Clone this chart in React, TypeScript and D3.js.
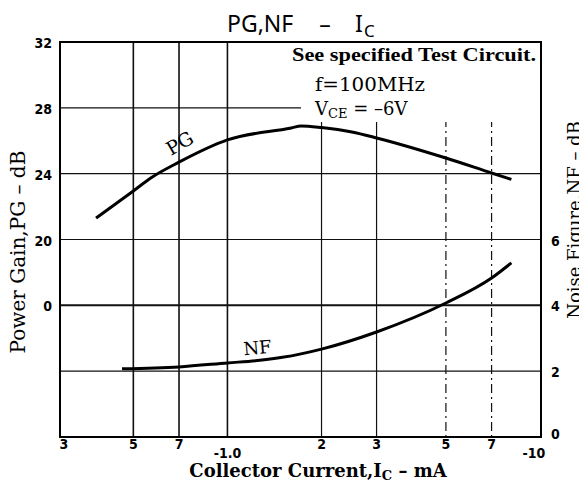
import React from 'react';
import * as d3 from 'd3';

// collector current in mA (absolute value), log axis
const xTickValues = [0.3, 0.5, 0.7, 1, 2, 3, 5, 7, 10];
const xTickLabels = ['3', '5', '7', '-1.0', '2', '3', '5', '7', '-10'];
const xGridValues = [0.5, 0.7, 1, 2, 3, 5, 7];
const xDashed = [5, 7];

// left axis: power gain (dB)
const pgTickValues = [32, 28, 24, 20, 16];
const pgTickLabels = ['32', '28', '24', '20', '0'];
const pgGridValues = [28, 24, 20, 16, 12];

// right axis: noise figure (dB)
const nfTickValues = [6, 4, 2, 0];

// curves
const pgCurrent = [0.38, 0.5, 0.57, 0.7, 1.0, 1.6, 1.72, 2.0, 2.5, 3.0, 5.0, 7.0, 8.1];
const pgValues = [21.3, 22.95, 23.75, 24.7, 26.05, 26.78, 26.9, 26.8, 26.53, 26.17, 24.95, 24.04, 23.65];
const nfCurrent = [0.46, 0.7, 1.0, 1.27, 1.5, 2.0, 3.0, 5.0, 7.0, 8.1];
const nfValues = [2.07, 2.13, 2.25, 2.33, 2.42, 2.67, 3.19, 4.07, 4.83, 5.29];

export default function App() {
  const width = 579;
  const height = 484;
  const left = 60, right = 541, top = 42, bottom = 437;

  const x = d3.scaleLog().domain([0.3, 10]).range([64, 540]);
  const yPG = d3.scaleLinear().domain([8, 32]).range([bottom, top]);
  const yNF = d3.scaleLinear().domain([0, 12]).range([bottom, top]);

  const pgLine = d3.line<number>()
    .x((d, i) => x(pgCurrent[i]))
    .y(d => yPG(d))
    .curve(d3.curveMonotoneX);
  const nfLine = d3.line<number>()
    .x((d, i) => x(nfCurrent[i]))
    .y(d => yNF(d))
    .curve(d3.curveMonotoneX);

  const serif = "'DejaVu Serif', serif";
  const tickFont = "'DejaVu Sans Condensed', 'DejaVu Sans', sans-serif";

  return (
    <svg
      width={width}
      height={height}
      style={{ position: 'absolute', left: 0, top: 0, background: '#fff' }}
    >
      {/* title */}
      <g fontFamily="'Noto Sans', sans-serif" fill="#000">
        <text x={227} y={32} fontSize={23}>PG,NF</text>
        <text x={325} y={32} fontSize={23} textAnchor="middle">–</text>
        <text x={355} y={32} fontSize={23}>I</text>
        <text x={364} y={37} fontSize={17}>C</text>
      </g>

      {/* grid */}
      <g stroke="#111" fill="none">
        {pgGridValues.map(v => (
          <line key={'h' + v} x1={left} x2={right} y1={yPG(v)} y2={yPG(v)}
            strokeWidth={v === 16 ? 2 : 1.2} />
        ))}
        {xGridValues.map(v => (
          <line key={'v' + v} x1={x(v)} x2={x(v)} y1={top} y2={bottom}
            strokeWidth={v <= 1 ? 1.6 : 1.2}
            strokeDasharray={xDashed.includes(v) ? '9 4 2 4' : undefined} />
        ))}
      </g>

      {/* box behind the conditions */}
      <rect x={301} y={top + 1} width={right - 302} height={79} fill="#fff" />

      {/* frame */}
      <rect x={left} y={top} width={right - left} height={bottom - top}
        fill="none" stroke="#000" strokeWidth={2} />

      {/* curves */}
      <path d={pgLine(pgValues) || ''} fill="none" stroke="#000" strokeWidth={3} />
      <path d={nfLine(nfValues) || ''} fill="none" stroke="#000" strokeWidth={3} />

      {/* curve labels */}
      <text fontFamily={serif} fontSize={19} transform="translate(183,149) rotate(-30)"
        textAnchor="middle">PG</text>
      <text fontFamily={serif} fontSize={18} transform="translate(258,354) rotate(-5)"
        textAnchor="middle">NF</text>

      {/* conditions */}
      <g fill="#000">
        <text x={292} y={61} fontFamily="'Liberation Serif', serif" fontSize={19}
          fontWeight="bold" textLength={244}
          lengthAdjust="spacingAndGlyphs">See specified Test Circuit.</text>
        <text x={315} y={91} fontFamily={serif} fontSize={18} textLength={110}
          lengthAdjust="spacingAndGlyphs">f=100MHz</text>
        <text x={315} y={115} fontFamily={serif} fontSize={18}>
          V<tspan fontSize={13} dy={3}>CE</tspan><tspan dy={-3}> = –6V</tspan>
        </text>
      </g>

      {/* x ticks */}
      <g fontFamily={tickFont} fontWeight="bold" fontSize={14} textAnchor="middle">
        {xTickValues.map((v, i) => {
          const lab = xTickLabels[i];
          const neg = lab.startsWith('-');
          return (
            <text key={'xt' + i} x={x(v) + (i === xTickValues.length - 1 ? -6 : 0)}
              y={neg ? 458 : 449}>{lab}</text>
          );
        })}
      </g>

      {/* left ticks */}
      <g fontFamily={tickFont} fontWeight="bold" fontSize={14} textAnchor="end">
        {pgTickValues.map((v, i) => (
          <text key={'pg' + v} x={52} y={yPG(v) + 6}>{pgTickLabels[i]}</text>
        ))}
      </g>

      {/* right ticks */}
      <g fontFamily={tickFont} fontWeight="bold" fontSize={14} textAnchor="start">
        {nfTickValues.map(v => (
          <text key={'nf' + v} x={551} y={yNF(v) + (v === 0 ? 2 : 6)}>{v}</text>
        ))}
      </g>

      {/* axis titles */}
      <text fontFamily={serif} fontSize={20} textAnchor="middle"
        transform="translate(25,252) rotate(-90)">Power Gain,PG – dB</text>
      <text fontFamily={serif} fontSize={18} textAnchor="middle"
        transform="translate(581,220) rotate(-90)">Noise Figure,NF – dB</text>
      <text fontFamily={serif} fontSize={18} fontWeight="bold" textAnchor="middle"
        x={318} y={477}>
        Collector Current,I<tspan fontSize={13} dy={3}>C</tspan><tspan dy={-3}> – mA</tspan>
      </text>
    </svg>
  );
}
